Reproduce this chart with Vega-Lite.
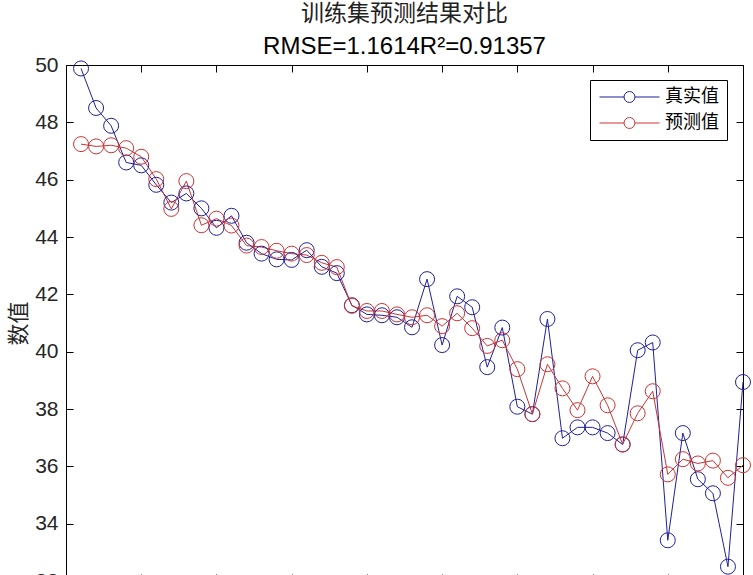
{
  "$schema": "https://vega.github.io/schema/vega-lite/v6.json",
  "width": 677,
  "height": 516,
  "autosize": "none",
  "padding": {"left": 66, "top": 65, "right": 10, "bottom": 0},
  "background": "white",
  "title": {
    "text": "训练集预测结果对比",
    "subtitle": "RMSE=1.1614R²=0.91357",
    "font": "Noto Sans CJK SC",
    "fontSize": 23,
    "fontWeight": "normal",
    "color": "#222222",
    "subtitleFont": "Liberation Sans",
    "subtitleFontSize": 24,
    "subtitleColor": "#000000",
    "subtitlePadding": 9,
    "anchor": "middle",
    "offset": -5
  },
  "config": {
    "view": {"stroke": "black", "strokeWidth": 1},
    "axis": {
      "domainColor": "black",
      "tickColor": "black",
      "labelColor": "#262626",
      "labelFont": "Liberation Sans",
      "labelFontSize": 21,
      "grid": false,
      "tickSize": -7,
      "titleColor": "#262626"
    }
  },
  "data": {
    "values": [
      {"x": 1, "series": "真实值", "value": 49.88},
      {"x": 2, "series": "真实值", "value": 48.5},
      {"x": 3, "series": "真实值", "value": 47.88},
      {"x": 4, "series": "真实值", "value": 46.6},
      {"x": 5, "series": "真实值", "value": 46.5},
      {"x": 6, "series": "真实值", "value": 45.82},
      {"x": 7, "series": "真实值", "value": 45.2},
      {"x": 8, "series": "真实值", "value": 45.52},
      {"x": 9, "series": "真实值", "value": 45.0},
      {"x": 10, "series": "真实值", "value": 44.32},
      {"x": 11, "series": "真实值", "value": 44.74},
      {"x": 12, "series": "真实值", "value": 43.8},
      {"x": 13, "series": "真实值", "value": 43.42},
      {"x": 14, "series": "真实值", "value": 43.22},
      {"x": 15, "series": "真实值", "value": 43.2},
      {"x": 16, "series": "真实值", "value": 43.54},
      {"x": 17, "series": "真实值", "value": 42.96},
      {"x": 18, "series": "真实值", "value": 42.74},
      {"x": 19, "series": "真实值", "value": 41.62},
      {"x": 20, "series": "真实值", "value": 41.3},
      {"x": 21, "series": "真实值", "value": 41.27},
      {"x": 22, "series": "真实值", "value": 41.2},
      {"x": 23, "series": "真实值", "value": 40.85},
      {"x": 24, "series": "真实值", "value": 42.53},
      {"x": 25, "series": "真实值", "value": 40.23},
      {"x": 26, "series": "真实值", "value": 41.93},
      {"x": 27, "series": "真实值", "value": 41.55},
      {"x": 28, "series": "真实值", "value": 39.46},
      {"x": 29, "series": "真实值", "value": 40.84},
      {"x": 30, "series": "真实值", "value": 38.08},
      {"x": 31, "series": "真实值", "value": 37.82},
      {"x": 32, "series": "真实值", "value": 41.14},
      {"x": 33, "series": "真实值", "value": 36.98},
      {"x": 34, "series": "真实值", "value": 37.36},
      {"x": 35, "series": "真实值", "value": 37.36},
      {"x": 36, "series": "真实值", "value": 37.16},
      {"x": 37, "series": "真实值", "value": 36.76},
      {"x": 38, "series": "真实值", "value": 40.05},
      {"x": 39, "series": "真实值", "value": 40.32},
      {"x": 40, "series": "真实值", "value": 33.42},
      {"x": 41, "series": "真实值", "value": 37.16},
      {"x": 42, "series": "真实值", "value": 35.55},
      {"x": 43, "series": "真实值", "value": 35.06},
      {"x": 44, "series": "真实值", "value": 32.5},
      {"x": 45, "series": "真实值", "value": 38.94},
      {"x": 1, "series": "预测值", "value": 47.24},
      {"x": 2, "series": "预测值", "value": 47.16},
      {"x": 3, "series": "预测值", "value": 47.2},
      {"x": 4, "series": "预测值", "value": 47.1},
      {"x": 5, "series": "预测值", "value": 46.8},
      {"x": 6, "series": "预测值", "value": 46.02},
      {"x": 7, "series": "预测值", "value": 44.98},
      {"x": 8, "series": "预测值", "value": 45.95},
      {"x": 9, "series": "预测值", "value": 44.41},
      {"x": 10, "series": "预测值", "value": 44.64},
      {"x": 11, "series": "预测值", "value": 44.4},
      {"x": 12, "series": "预测值", "value": 43.7},
      {"x": 13, "series": "预测值", "value": 43.65},
      {"x": 14, "series": "预测值", "value": 43.52},
      {"x": 15, "series": "预测值", "value": 43.42},
      {"x": 16, "series": "预测值", "value": 43.37},
      {"x": 17, "series": "预测值", "value": 43.1},
      {"x": 18, "series": "预测值", "value": 42.95},
      {"x": 19, "series": "预测值", "value": 41.6},
      {"x": 20, "series": "预测值", "value": 41.42},
      {"x": 21, "series": "预测值", "value": 41.42},
      {"x": 22, "series": "预测值", "value": 41.3},
      {"x": 23, "series": "预测值", "value": 41.2},
      {"x": 24, "series": "预测值", "value": 41.27},
      {"x": 25, "series": "预测值", "value": 40.89},
      {"x": 26, "series": "预测值", "value": 41.34},
      {"x": 27, "series": "预测值", "value": 40.82},
      {"x": 28, "series": "预测值", "value": 40.2},
      {"x": 29, "series": "预测值", "value": 40.4},
      {"x": 30, "series": "预测值", "value": 39.39},
      {"x": 31, "series": "预测值", "value": 37.82},
      {"x": 32, "series": "预测值", "value": 39.56},
      {"x": 33, "series": "预测值", "value": 38.72},
      {"x": 34, "series": "预测值", "value": 37.96},
      {"x": 35, "series": "预测值", "value": 39.14},
      {"x": 36, "series": "预测值", "value": 38.13},
      {"x": 37, "series": "预测值", "value": 36.77},
      {"x": 38, "series": "预测值", "value": 37.85},
      {"x": 39, "series": "预测值", "value": 38.62},
      {"x": 40, "series": "预测值", "value": 35.72},
      {"x": 41, "series": "预测值", "value": 36.25},
      {"x": 42, "series": "预测值", "value": 36.1},
      {"x": 43, "series": "预测值", "value": 36.2},
      {"x": 44, "series": "预测值", "value": 35.6},
      {"x": 45, "series": "预测值", "value": 36.04}
    ]
  },
  "layer": [
    {
      "mark": {"type": "line", "strokeWidth": 1},
      "encoding": {
        "x": {"field": "x", "type": "quantitative", "scale": {"domain": [0, 45], "nice": false},
              "axis": {"values": [0, 5, 10, 15, 20, 25, 30, 35, 40, 45], "title": null, "labels": false, "domain": false}},
        "y": {"field": "value", "type": "quantitative", "scale": {"domain": [32, 50], "nice": false, "zero": false},
              "axis": {"values": [32, 34, 36, 38, 40, 42, 44, 46, 48, 50], "title": "数值", "titleFont": "Noto Sans CJK SC", "titleFontSize": 22, "titleFontWeight": "normal", "titlePadding": 4, "labelPadding": 15, "domain": false}},
        "color": {"field": "series", "type": "nominal",
                  "scale": {"domain": ["真实值", "预测值"], "range": ["#1f1f9c", "#cc3333"]},
                  "legend": {"orient": "none", "legendX": 524, "legendY": 15, "title": null,
                             "strokeColor": "black", "fillColor": "white", "padding": 8, "cornerRadius": 0,
                             "symbolType": "M-1,0L2.27,0M3.73,0L7,0M2.27,0A0.73,0.73,0,1,1,3.73,0A0.73,0.73,0,1,1,2.27,0",
                             "symbolSize": 225, "symbolStrokeWidth": 1, "symbolFillColor": "transparent",
                             "labelFont": "Noto Sans CJK SC", "labelFontSize": 18, "labelColor": "black", "labelOffset": 49, "rowPadding": 8}}
      }
    },
    {
      "mark": {"type": "point", "filled": false, "size": 225, "strokeWidth": 1, "opacity": 1},
      "encoding": {
        "x": {"field": "x", "type": "quantitative", "axis": {"orient": "top", "values": [0, 5, 10, 15, 20, 25, 30, 35, 40, 45], "labels": false, "title": null, "domain": false}},
        "y": {"field": "value", "type": "quantitative", "axis": {"orient": "right", "values": [32, 34, 36, 38, 40, 42, 44, 46, 48, 50], "labels": false, "title": null, "domain": false}},
        "color": {"field": "series", "type": "nominal"}
      }
    }
  ],
  "resolve": {"axis": {"x": "independent", "y": "independent"}}
}
